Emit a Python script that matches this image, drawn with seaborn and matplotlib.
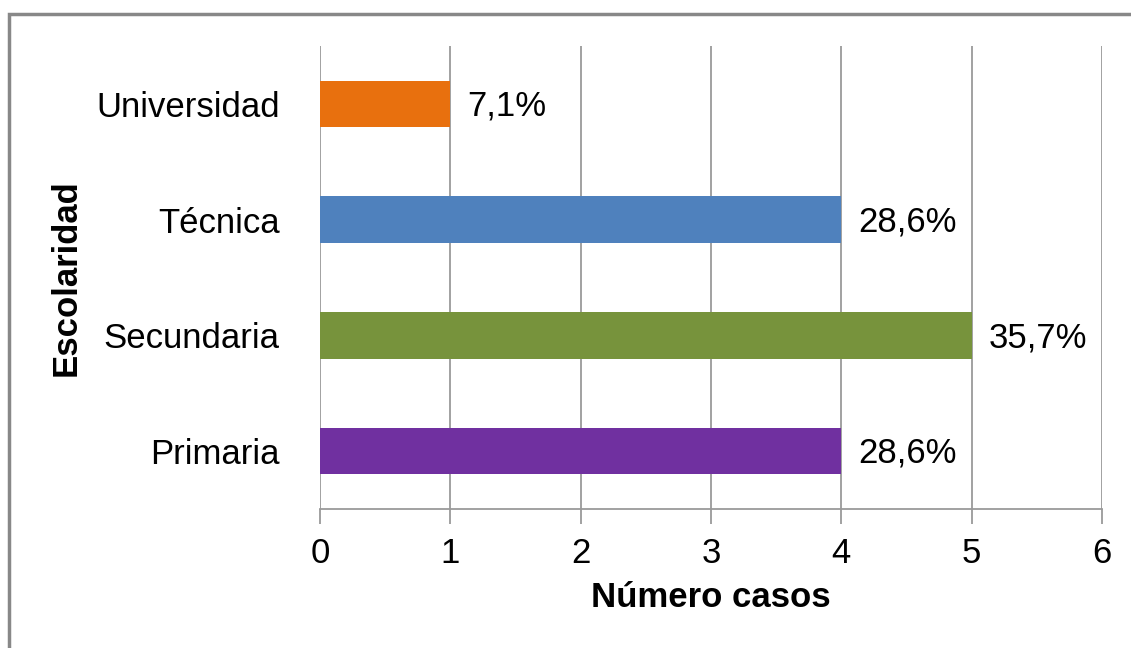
import matplotlib
matplotlib.use("Agg")
import matplotlib.pyplot as plt
import seaborn as sns
import pandas as pd
from matplotlib.patches import Rectangle

categorias = ["Universidad", "Técnica", "Secundaria", "Primaria"]
casos = [1, 4, 5, 4]
porcentajes = ["7,1%", "28,6%", "35,7%", "28,6%"]
colores = ["#E8700E", "#4F81BD", "#77933C", "#7030A0"]

df = pd.DataFrame({"Escolaridad": categorias, "casos": casos})

sns.set_theme(style="white")
plt.rcParams["font.family"] = ["Liberation Sans", "DejaVu Sans"]
plt.rcParams["text.color"] = "black"
plt.rcParams["xtick.labelcolor"] = "black"
plt.rcParams["ytick.labelcolor"] = "black"
plt.rcParams["axes.labelcolor"] = "black"

fig = plt.figure(figsize=(11.31, 6.48), dpi=100)
ax = fig.add_axes([320 / 1131, 1 - 509 / 648, 782 / 1131, 463 / 648])

sns.barplot(data=df, x="casos", y="Escolaridad", hue="Escolaridad",
            palette=colores, width=0.4, legend=False, ax=ax,
            saturation=1, edgecolor="none")

ax.set_xlim(0, 6)
ax.set_xticks(range(0, 7))
ax.xaxis.grid(True, color="#9a9a9a", linewidth=1.3)
ax.set_axisbelow(True)
for s in ["top", "right", "left"]:
    ax.spines[s].set_visible(False)
ax.spines["bottom"].set_color("#9a9a9a")
ax.spines["bottom"].set_linewidth(1.3)
ax.tick_params(axis="x", length=11, width=1.3, color="#9a9a9a",
               labelsize=25, pad=9, bottom=True)
ax.tick_params(axis="y", length=0, labelsize=25, pad=29)

for i, (v, p) in enumerate(zip(casos, porcentajes)):
    ax.text(v + 0.13, i + 0.02, p, va="center", ha="left", fontsize=25, color="black")

ax.set_xlabel("Número casos", fontsize=25, fontweight="bold", labelpad=8)
ax.set_ylabel("Escolaridad", fontsize=25, fontweight="bold", labelpad=10)

fig.patches.append(Rectangle((9 / 1131, -0.05), 1.2, 1 - 14 / 648 + 0.05,
                             transform=fig.transFigure, fill=False,
                             edgecolor="#888888", linewidth=2.5))

fig.savefig("out.png", dpi=100)
